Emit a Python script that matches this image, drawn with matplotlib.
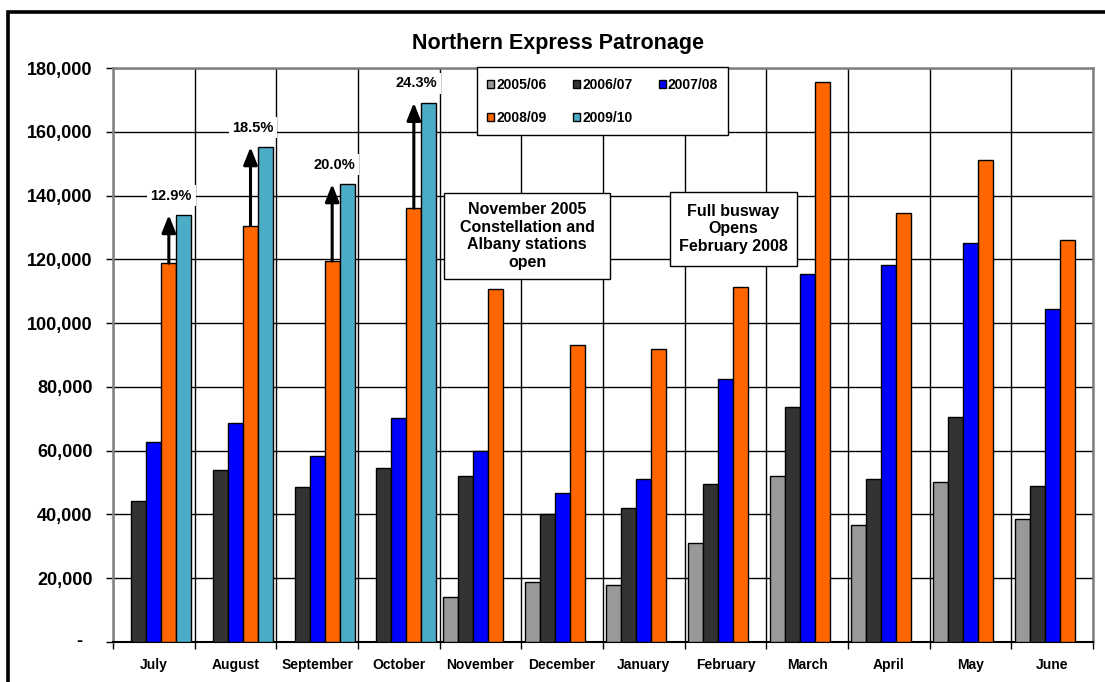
import matplotlib
matplotlib.use("Agg")
import matplotlib.pyplot as plt
from matplotlib.patches import Rectangle
import numpy as np

months = ["July", "August", "September", "October", "November", "December",
          "January", "February", "March", "April", "May", "June"]
series_names = ["2005/06", "2006/07", "2007/08", "2008/09", "2009/10"]
v2005 = [np.nan, np.nan, np.nan, np.nan, 14000, 18700, 18000, 31000, 51900, 36700, 50100, 38500]
v2006 = [44300, 53900, 48700, 54500, 51900, 40000, 42100, 49700, 73800, 51000, 70600, 49000]
v2007 = [62600, 68800, 58300, 70200, 60000, 46700, 51000, 82500, 115300, 118100, 125200, 104300]
v2008 = [118800, 130600, 119500, 136000, 110800, 93200, 91800, 111200, 175700, 134600, 151200, 126100]
v2009 = [133900, 155200, 143600, 169100, np.nan, np.nan, np.nan, np.nan, np.nan, np.nan, np.nan, np.nan]
growth_labels = ["12.9%", "18.5%", "20.0%", "24.3%"]
yticks = [0, 20000, 40000, 60000, 80000, 100000, 120000, 140000, 160000, 180000]
ytick_labels = ["", "20,000", "40,000", "60,000", "80,000", "100,000", "120,000",
                "140,000", "160,000", "180,000"]
note1 = "November 2005\nConstellation and\nAlbany stations\nopen"
note2 = "Full busway\nOpens\nFebruary 2008"
title = "Northern Express Patronage"

colors = ["#999999", "#333333", "#0000FF", "#FF6600", "#4BACC6"]
FONT = "Liberation Sans"
plt.rcParams['font.family'] = [FONT, 'DejaVu Sans']

fig = plt.figure(figsize=(11.05, 6.82), dpi=100)
ax = fig.add_axes([113/1105, 1-642/682, 980/1105, 574/682])

x = np.arange(len(months))
w = 0.1837
all_series = [v2005, v2006, v2007, v2008, v2009]
handles = []
for i, (vals, c, name) in enumerate(zip(all_series, colors, series_names)):
    h = ax.bar(x + (i - 2) * w, vals, width=w, color=c, edgecolor="black",
               linewidth=1.0, label=name, zorder=3)
    handles.append(h)

ax.set_xlim(-0.5, len(months) - 0.5)
ax.set_ylim(0, 180000)

ax.set_yticks(yticks)
ax.set_yticklabels(ytick_labels, fontsize=13, fontweight="bold", family=FONT)
ax.set_xticks(np.arange(0.5, len(months) - 0.5, 1.0).tolist() + [-0.5, len(months) - 0.5])
ax.set_xticklabels([])
ax.set_xticks(x, minor=True)
ax.set_xticklabels(months, minor=True, fontsize=10, fontweight="bold", family=FONT)
ax.tick_params(axis="x", which="minor", length=0, pad=11.5)
ax.tick_params(axis="x", which="major", length=5, width=1, direction="out", color="black")
ax.tick_params(axis="y", length=5, width=1, direction="out", pad=9.7, color="black")
ax.grid(True, which="major", color="black", linewidth=1.0, zorder=0)
ax.set_axisbelow(True)
for s in ["top", "right", "left"]:
    ax.spines[s].set_color("#808080")
    ax.spines[s].set_linewidth(1.8)
ax.spines["bottom"].set_color("black")
ax.spines["bottom"].set_linewidth(1.5)

ax.text(-0.0347, 0, "-", transform=ax.get_yaxis_transform(), ha="center", va="center",
        fontsize=13, fontweight="bold", family=FONT)

for i, lab in enumerate(growth_labels):
    xo = x[i] + 1 * w
    ax.annotate("", xy=(xo, v2009[i]), xytext=(xo, v2008[i]),
                arrowprops=dict(arrowstyle="-|>,head_width=0.3,head_length=0.75",
                                lw=2.2, color="black", shrinkA=0, shrinkB=0,
                                mutation_scale=14), zorder=5)
    ax.annotate(lab, xy=(xo + 0.03, v2009[i]), xytext=(0, 14), textcoords="offset points",
                ha="center", va="center", fontsize=10.5, fontweight="bold", family=FONT,
                bbox=dict(boxstyle="square,pad=0.25", facecolor="white", edgecolor="none"),
                zorder=6)

def note_box(x0, y0, x1, y1, text):
    ax.add_patch(Rectangle((x0, y0), x1 - x0, y1 - y0, transform=ax.transAxes,
                           facecolor="white", edgecolor="black", linewidth=1.0,
                           zorder=7, clip_on=False))
    ax.text((x0 + x1) / 2, (y0 + y1) / 2, text, transform=ax.transAxes, ha="center",
            va="center", fontsize=11.5, fontweight="bold", family=FONT, linespacing=1.22,
            zorder=8)

note_box(0.3378, 0.6324, 0.5071, 0.7822, note1)
note_box(0.5684, 0.6551, 0.6980, 0.7840, note2)

order = [0, 3, 1, 4, 2]
leg = ax.legend([handles[k] for k in order], [series_names[k] for k in order],
                ncol=3, loc="upper left", bbox_to_anchor=(0.3714, 1.0015),
                prop={"family": FONT, "weight": "bold", "size": 10},
                frameon=True, fancybox=False, edgecolor="black", framealpha=1,
                handlelength=0.5, handleheight=0.5, handletextpad=0.15,
                columnspacing=1.9, labelspacing=1.4, borderpad=0.75, borderaxespad=0)
leg.get_frame().set_linewidth(1.0)
leg.set_zorder(9)

fig.text(558/1105, 1 - 43/682, title, ha="center", va="center", fontsize=15.5,
         fontweight="bold", family=FONT)

fig.patches.append(Rectangle((8/1105, -0.1), 1.2, 1 - 12/682 + 0.1,
                             transform=fig.transFigure, fill=False, edgecolor="black",
                             linewidth=2.6))

fig.savefig("out.png", dpi=100)
